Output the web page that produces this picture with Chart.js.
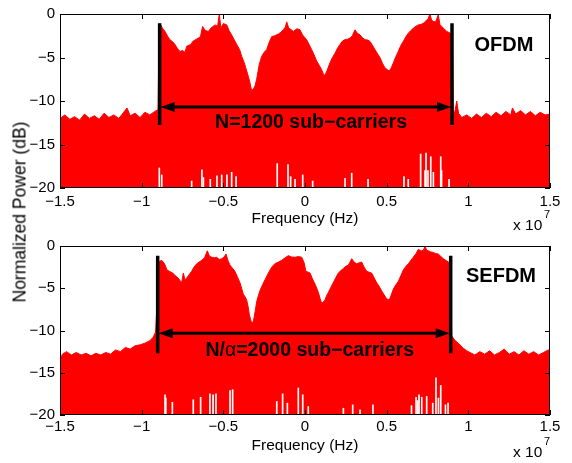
<!DOCTYPE html>
<html>
<head>
<meta charset="utf-8">
<script src="https://cdn.jsdelivr.net/npm/chart.js@4.4.1/dist/chart.umd.min.js"></script>
<style>
  html, body { margin: 0; padding: 0; background: #fff; }
  #wrap { position: relative; width: 572px; height: 463px; overflow: hidden; }
  #wrap canvas { position: absolute; left: 0; }
  #ofdm { top: 0; }
  #sefdm { top: 232px; }
  #ylabel {
    position: absolute; left: 20px; top: 212px;
    transform: translate(-50%, -50%) rotate(-90deg);
    font: 17.5px "Liberation Sans", Arial, sans-serif;
    white-space: nowrap; color: #000;
  }
</style>
</head>
<body>
<div id="wrap">
  <canvas id="ofdm" width="572" height="232"></canvas>
  <canvas id="sefdm" width="572" height="231"></canvas>
  <div id="ylabel">Normalized Power (dB)</div>
</div>
<script>
// frequency in units of 1e7 Hz, power in dB
const freqTicks = [-1.5, -1, -0.5, 0, 0.5, 1, 1.5];
const powerTicks = [0, -5, -10, -15, -20];

const ofdmFreq = [
  -1.50, -1.47, -1.44, -1.41, -1.38, -1.35, -1.32, -1.29, -1.26, -1.23,
  -1.20, -1.17, -1.14, -1.11, -1.09, -1.07, -1.04, -1.01, -0.98, -0.95,
  -0.92, -0.90, -0.893, -0.888, -0.87, -0.857, -0.84, -0.827, -0.81, -0.796,
  -0.78, -0.765, -0.75, -0.735, -0.724, -0.70, -0.684, -0.665, -0.653, -0.64,
  -0.627, -0.61, -0.592, -0.575, -0.551, -0.535, -0.525, -0.515, -0.50, -0.479,
  -0.465, -0.449, -0.435, -0.418, -0.40, -0.388, -0.372, -0.357, -0.345, -0.337,
  -0.327, -0.315, -0.305, -0.296, -0.28, -0.265, -0.25, -0.235, -0.22, -0.204,
  -0.185, -0.163, -0.148, -0.133, -0.12, -0.112, -0.10, -0.085, -0.071, -0.05,
  -0.031, -0.015, 0.01, 0.025, 0.041, 0.056, 0.071, 0.087, 0.102, 0.112,
  0.122, 0.135, 0.153, 0.168, 0.184, 0.20, 0.214, 0.23, 0.245, 0.26,
  0.276, 0.29, 0.306, 0.32, 0.337, 0.35, 0.367, 0.385, 0.398, 0.413,
  0.429, 0.445, 0.459, 0.475, 0.49, 0.505, 0.516, 0.528, 0.541, 0.556,
  0.571, 0.587, 0.602, 0.618, 0.633, 0.648, 0.663, 0.68, 0.694, 0.71,
  0.725, 0.74, 0.755, 0.765, 0.775, 0.786, 0.80, 0.816, 0.826, 0.837,
  0.852, 0.867, 0.88, 0.895, 0.902, 0.908, 0.92, 0.929, 0.94, 0.96,
  0.99, 1.02, 1.05, 1.08, 1.11, 1.14, 1.17, 1.20, 1.23, 1.26,
  1.27, 1.29, 1.32, 1.35, 1.38, 1.41, 1.44, 1.47, 1.50
];
const ofdmPower = [
  -12.0, -11.6, -12.1, -11.8, -12.2, -11.5, -12.0, -11.7, -12.1, -11.4,
  -11.9, -11.6, -12.0, -11.3, -10.8, -11.7, -11.4, -11.9, -11.3, -11.6,
  -11.2, -11.0, -1.2, -1.1, -1.7, -2.0, -2.6, -2.95, -3.2, -3.5,
  -4.0, -4.3, -4.2, -4.4, -3.7, -3.5, -3.1, -2.9, -2.77, -2.6,
  -1.44, -1.9, -2.0, -1.6, -1.25, -1.4, 0, -1.6, -1.1, -1.25,
  -1.9, -2.4, -2.9, -3.5, -4.1, -4.85, -5.6, -6.55, -7.3, -7.9,
  -8.8, -8.6, -8.2, -7.5, -5.8, -4.85, -4.4, -4.1, -3.3, -2.6,
  -2.5, -2.3, -2.1, -1.8, -1.5, -0.9, -1.6, -1.8, -2.0, -1.7,
  -1.8, -2.4, -2.95, -3.5, -4.1, -4.7, -5.4, -5.9, -6.4, -6.9,
  -7.05, -6.5, -5.6, -5.0, -4.5, -3.9, -3.5, -3.1, -2.95, -2.9,
  -2.77, -2.5, -1.82, -2.2, -2.4, -2.7, -2.95, -3.0, -3.15, -3.6,
  -4.1, -4.6, -5.0, -5.7, -6.2, -6.4, -6.55, -6.2, -5.6, -4.9,
  -4.3, -3.6, -3.15, -2.6, -2.2, -1.9, -1.63, -1.4, -1.25, -1.2,
  -1.06, -0.8, -0.5, 0, -0.7, -0.87, -0.9, -0.1, -1.2, -1.44,
  -1.7, -2.0, -2.1, -2.3, -2.3, -11.8, -11.0, -10.0, -11.4, -11.9,
  -11.6, -12.0, -11.5, -11.9, -11.4, -11.8, -11.3, -11.7, -11.2, -11.6,
  -10.8, -11.5, -11.1, -11.6, -11.2, -11.7, -11.3, -11.6, -11.5
];
// narrow nulls near the floor
const ofdmDipFreq = [
  -0.892, -0.877, -0.694, -0.631, -0.622, -0.58, -0.539, -0.510, -0.478, -0.449,
  -0.422, -0.170, -0.104, -0.088, -0.061, -0.014, 0.047, 0.245, 0.286, 0.386,
  0.606, 0.632, 0.708, 0.735, 0.741, 0.753, 0.770, 0.786, 0.831, 0.836, 0.882
];
const ofdmDipPower = [
  -17.7, -18.5, -19.2, -17.9, -18.8, -19.0, -18.6, -18.5, -18.5, -18.2,
  -18.7, -17.2, -17.3, -18.7, -19.0, -18.5, -19.2, -18.9, -18.3, -19.0,
  -18.7, -19.0, -16.1, -18.0, -16.0, -18.0, -16.4, -18.2, -16.4, -18.0, -19.0
];

const sefdmFreq = [
  -1.50, -1.485, -1.46, -1.43, -1.40, -1.37, -1.34, -1.31, -1.28, -1.25,
  -1.22, -1.19, -1.16, -1.13, -1.10, -1.07, -1.04, -1.01, -0.98, -0.95,
  -0.93, -0.915, -0.908, -0.90, -0.895, -0.877, -0.86, -0.845, -0.83, -0.81,
  -0.795, -0.776, -0.765, -0.755, -0.745, -0.735, -0.724, -0.71, -0.694, -0.68,
  -0.663, -0.648, -0.633, -0.615, -0.598, -0.585, -0.571, -0.555, -0.541, -0.525,
  -0.51, -0.495, -0.484, -0.47, -0.459, -0.445, -0.429, -0.415, -0.398, -0.388,
  -0.378, -0.367, -0.357, -0.348, -0.341, -0.333, -0.327, -0.318, -0.312, -0.304,
  -0.296, -0.286, -0.276, -0.26, -0.245, -0.23, -0.214, -0.20, -0.184, -0.163,
  -0.143, -0.122, -0.102, -0.082, -0.061, -0.04, -0.02, -0.005, 0.005, 0.02,
  0.031, 0.046, 0.061, 0.072, 0.082, 0.092, 0.102, 0.112, 0.122, 0.132,
  0.143, 0.158, 0.173, 0.19, 0.204, 0.22, 0.235, 0.25, 0.265, 0.276,
  0.286, 0.30, 0.316, 0.33, 0.347, 0.362, 0.378, 0.393, 0.408, 0.424,
  0.439, 0.455, 0.469, 0.485, 0.50, 0.516, 0.528, 0.541, 0.556, 0.571,
  0.587, 0.602, 0.618, 0.633, 0.648, 0.663, 0.68, 0.694, 0.71, 0.725,
  0.735, 0.745, 0.755, 0.77, 0.786, 0.80, 0.816, 0.83, 0.847, 0.862,
  0.878, 0.888, 0.898, 0.908, 0.92, 0.949, 0.97, 0.99, 1.01, 1.04,
  1.07, 1.10, 1.13, 1.16, 1.19, 1.22, 1.25, 1.28, 1.31, 1.34,
  1.37, 1.40, 1.43, 1.46, 1.49, 1.50
];
const sefdmPower = [
  -13.4, -12.8, -12.5, -12.9, -12.6, -12.9, -12.7, -13.0, -12.7, -12.9,
  -12.6, -12.8, -12.3, -12.5, -12.0, -12.2, -11.8, -11.7, -11.5, -11.2,
  -10.8, -10.2, -7.5, -1.9, -1.9, -1.7, -2.1, -2.84, -3.0, -3.2,
  -3.5, -3.8, -4.1, -4.35, -3.2, -4.0, -3.8, -3.4, -3.0, -2.5,
  -2.1, -1.9, -1.7, -1.4, -0.57, -1.2, -1.33, -1.4, -1.33, -1.6,
  -1.5, -1.3, -0.95, -1.8, -2.27, -2.6, -3.0, -3.6, -4.35, -5.0,
  -5.7, -6.0, -6.4, -7.2, -8.1, -8.7, -9.1, -9.0, -8.5, -7.6,
  -6.6, -5.9, -5.3, -4.6, -4.0, -3.4, -2.84, -2.4, -2.1, -1.9,
  -1.7, -1.4, -1.14, -1.3, -1.33, -1.25, -1.33, -2.0, -3.0, -3.1,
  -3.2, -3.9, -4.5, -5.0, -5.5, -6.2, -6.8, -6.6, -6.4, -5.9,
  -5.5, -4.9, -4.35, -3.7, -3.2, -2.9, -2.65, -2.4, -2.27, -1.9,
  -1.5, -1.9, -2.1, -2.0, -1.9, -2.5, -3.0, -3.1, -3.2, -3.8,
  -4.35, -4.8, -5.3, -5.8, -6.25, -6.4, -5.8, -5.1, -4.6, -4.2,
  -3.5, -2.84, -2.4, -2.1, -1.7, -1.33, -0.9, -0.38, -0.6, -0.5,
  0, -0.5, -0.57, -0.7, -0.76, -0.9, -0.95, -1.2, -1.5, -1.7,
  -1.9, -2.0, -10.6, -10.9, -11.2, -11.7, -12.1, -12.4, -12.6, -12.9,
  -12.5, -12.8, -12.4, -12.9, -12.6, -12.2, -12.8, -12.5, -12.9, -12.4,
  -12.8, -12.5, -12.9, -12.6, -12.3, -12.4
];
const sefdmDipFreq = [
  -0.857, -0.852, -0.812, -0.684, -0.639, -0.582, -0.563, -0.545, -0.459, -0.443,
  -0.173, -0.137, -0.108, -0.041, -0.014, 0.020, 0.235, 0.292, 0.337, 0.416,
  0.652, 0.680, 0.690, 0.698, 0.715, 0.745, 0.782, 0.802, 0.817, 0.831, 0.860, 0.876
];
const sefdmDipPower = [
  -17.6, -18.0, -18.5, -18.2, -17.9, -17.5, -17.6, -17.5, -17.1, -17.0,
  -18.4, -17.5, -18.6, -16.8, -17.6, -19.0, -19.2, -18.8, -19.4, -18.8,
  -18.9, -17.9, -18.3, -17.6, -17.9, -17.8, -18.6, -15.6, -18.0, -16.5, -18.8, -18.6
];

// occupied band edges (axis units)
const ofdmEdges = [-0.89, 0.90];
const sefdmEdges = [-0.902, 0.892];

const FONT = '"Liberation Sans", Arial, sans-serif';
const minus = v => String(v).replace('-', '\u2212');

function arrowHead(ctx, x, y, dir) {
  ctx.beginPath();
  ctx.moveTo(x, y);
  ctx.lineTo(x - dir * 14, y - 5);
  ctx.lineTo(x - dir * 14, y + 5);
  ctx.closePath();
  ctx.fill();
}

function framePlugin(marks) {
  return {
    id: 'frame',
    afterDatasetsDraw(chart) {
      const { ctx, chartArea: a, scales: { x, y } } = chart;
      ctx.save();
      ctx.strokeStyle = '#000';
      ctx.fillStyle = '#000';

      // box with inward ticks on all four sides
      ctx.lineWidth = 1;
      ctx.strokeRect(a.left + 0.5, a.top + 0.5, a.right - a.left - 1, a.bottom - a.top - 1);
      ctx.beginPath();
      freqTicks.forEach(v => {
        const px = Math.round(x.getPixelForValue(v)) + 0.5;
        ctx.moveTo(px, a.bottom); ctx.lineTo(px, a.bottom - 5);
        ctx.moveTo(px, a.top); ctx.lineTo(px, a.top + 5);
      });
      powerTicks.forEach(v => {
        const py = Math.round(y.getPixelForValue(v)) + 0.5;
        ctx.moveTo(a.left, py); ctx.lineTo(a.left + 5, py);
        ctx.moveTo(a.right, py); ctx.lineTo(a.right - 5, py);
      });
      ctx.stroke();

      // band edges and double arrow
      const x0 = x.getPixelForValue(marks.edges[0]);
      const x1 = x.getPixelForValue(marks.edges[1]);
      ctx.lineWidth = 3.5;
      ctx.beginPath();
      [x0, x1].forEach(px => {
        ctx.moveTo(px, y.getPixelForValue(marks.edgeTop));
        ctx.lineTo(px, y.getPixelForValue(marks.edgeBottom));
      });
      ctx.stroke();
      const ay = y.getPixelForValue(marks.arrowLevel);
      ctx.lineWidth = 3;
      ctx.beginPath();
      ctx.moveTo(x0 + 8, ay); ctx.lineTo(x1 - 8, ay);
      ctx.stroke();
      arrowHead(ctx, x0 + 1, ay, -1);
      arrowHead(ctx, x1 - 1, ay, 1);

      // band label, drawn piece by piece for the mixed weights
      const parts = marks.label;
      let total = 0;
      parts.forEach(p => { ctx.font = p.font; p.w = ctx.measureText(p.text).width; total += p.w; });
      let tx = x.getPixelForValue(marks.labelAt[0]) - total / 2;
      const ty = y.getPixelForValue(marks.labelAt[1]);
      ctx.textAlign = 'left';
      ctx.textBaseline = 'middle';
      parts.forEach(p => { ctx.font = p.font; ctx.fillText(p.text, tx, ty); tx += p.w; });

      ctx.font = 'bold 20px ' + FONT;
      ctx.textAlign = 'center';
      ctx.fillText(marks.tag, x.getPixelForValue(marks.tagAt[0]), y.getPixelForValue(marks.tagAt[1]));

      // axis title and exponent
      ctx.textBaseline = 'alphabetic';
      ctx.font = '15.5px ' + FONT;
      ctx.fillText('Frequency (Hz)', (a.left + a.right) / 2, a.bottom + 35);
      ctx.textAlign = 'left';
      ctx.fillText('x 10', a.right - 37, a.bottom + 42);
      ctx.font = '11px ' + FONT;
      ctx.fillText('7', a.right - 6, a.bottom + 30);
      ctx.restore();
    }
  };
}

function spectrumChart(id, freq, power, dipFreq, dipPower, marks, padTop, axisHeight, tickPad) {
  return new Chart(document.getElementById(id), {
    type: 'line',
    data: {
      datasets: [
        {
          type: 'bar',
          data: dipFreq.map((f, i) => ({ x: f, y: [-20, dipPower[i]] })),
          backgroundColor: '#ffffff',
          barThickness: 1,
          order: 0
        },
        {
          data: freq.map((f, i) => ({ x: f, y: power[i] })),
          borderColor: '#ff0000',
          backgroundColor: '#ff0000',
          borderWidth: 1,
          pointRadius: 0,
          tension: 0,
          fill: 'start',
          order: 1
        }
      ]
    },
    options: {
      responsive: false,
      animation: false,
      layout: { padding: { top: padTop, right: 22, left: 0, bottom: 0 } },
      plugins: { legend: { display: false }, tooltip: { enabled: false } },
      scales: {
        x: {
          type: 'linear',
          min: -1.5,
          max: 1.5,
          offset: false,
          grid: { display: false, drawTicks: false },
          border: { display: false },
          afterBuildTicks: s => { s.ticks = freqTicks.map(v => ({ value: v })); },
          afterFit: s => { s.height = axisHeight; },
          ticks: {
            padding: tickPad,
            color: '#000',
            font: { family: FONT, size: 15 },
            maxRotation: 0,
            autoSkip: false,
            callback: minus
          }
        },
        y: {
          min: -20,
          max: 0,
          grid: { display: false, drawTicks: false },
          border: { display: false },
          afterBuildTicks: s => { s.ticks = powerTicks.map(v => ({ value: v })); },
          afterFit: s => { s.width = 60; },
          ticks: {
            padding: 5,
            color: '#000',
            font: { family: FONT, size: 15 },
            callback: minus
          }
        }
      }
    },
    plugins: [framePlugin(marks)]
  });
}

const bold = 'bold 19.5px ' + FONT;

spectrumChart('ofdm', ofdmFreq, ofdmPower, ofdmDipFreq, ofdmDipPower, {
  edges: ofdmEdges, edgeTop: -1.06, edgeBottom: -12.77, arrowLevel: -10.68,
  label: [{ text: 'N=1200 sub\u2212carriers', font: bold }],
  labelAt: [0.037, -12.5],
  tag: 'OFDM', tagAt: [1.218, -3.64]
}, 12, 44, 5);

spectrumChart('sefdm', sefdmFreq, sefdmPower, sefdmDipFreq, sefdmDipPower, {
  edges: sefdmEdges, edgeTop: -1.14, edgeBottom: -12.7, arrowLevel: -10.34,
  label: [
    { text: 'N/', font: bold },
    { text: '\u03b1', font: '19.5px ' + FONT },
    { text: '=2000 sub\u2212carriers', font: bold }
  ],
  labelAt: [0.029, -12.33],
  tag: 'SEFDM', tagAt: [1.20, -3.58]
}, 7, 48, 3);
</script>
</body>
</html>
